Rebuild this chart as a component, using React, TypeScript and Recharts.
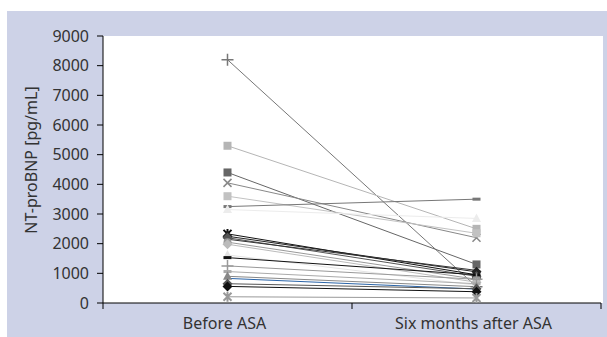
import React from "react";
import { LineChart, Line, XAxis, YAxis } from "recharts";

// paired NT-proBNP values, one entry per patient
const categories = ["Before ASA", "Six months after ASA"];
const patients = [
  "P1", "P2", "P3", "P4", "P5", "P6", "P7", "P8", "P9", "P10", "P11",
  "P12", "P13", "P14", "P15", "P16", "P17", "P18", "P19", "P20", "P21", "P22",
];
const beforeValues = [
  8200, 5300, 4400, 4050, 3600, 3250, 3150, 2330, 2250, 2200, 2150,
  2050, 1980, 1620, 1530, 1250, 1060, 900, 830, 650, 560, 210,
];
const afterValues = [
  550, 2500, 1300, 2200, 2350, 3500, 2850, 950, 1050, 900, 1100,
  800, 700, 600, 950, 800, 650, 550, 470, 480, 380, 170,
];
const yTicks = [0, 1000, 2000, 3000, 4000, 5000, 6000, 7000, 8000, 9000];

// styling per patient
const lineColors = [
  "#777777", "#b5b5b5", "#666666", "#888888", "#c2c2c2", "#777777", "#ececec",
  "#111111", "#222222", "#555555", "#333333", "#999999", "#bbbbbb", "#e4e4e4",
  "#111111", "#999999", "#aaaaaa", "#888888", "#2a64a8", "#555555", "#111111",
  "#999999",
];
const markerShapes = [
  "plus", "square", "square", "cross", "square", "dash", "triangle",
  "star", "diamond", "diamond", "none", "circle", "diamond", "triangle",
  "dash", "plus", "dash", "triangle", "none", "diamond", "diamond", "star",
];

const FONT = "'Noto Sans', 'Open Sans', sans-serif";

const Marker = ({ cx, cy, shape, color }: any) => {
  if (cx == null || cy == null) return <g />;
  switch (shape) {
    case "square":
      return <rect x={cx - 4} y={cy - 4} width={8} height={8} fill={color} />;
    case "dash":
      return <rect x={cx - 4} y={cy - 1.5} width={8} height={3} fill={color} />;
    case "plus":
      return (
        <path
          d={`M${cx - 6},${cy}H${cx + 6}M${cx},${cy - 6}V${cy + 6}`}
          stroke={color}
          strokeWidth={1.5}
        />
      );
    case "cross":
      return (
        <path
          d={`M${cx - 4},${cy - 4}L${cx + 4},${cy + 4}M${cx - 4},${cy + 4}L${cx + 4},${cy - 4}`}
          stroke={color}
          strokeWidth={1.5}
        />
      );
    case "star":
      return (
        <path
          d={`M${cx - 4},${cy - 4}L${cx + 4},${cy + 4}M${cx - 4},${cy + 4}L${cx + 4},${cy - 4}M${cx},${cy - 5}V${cy + 5}`}
          stroke={color}
          strokeWidth={2}
        />
      );
    case "triangle":
      return (
        <polygon
          points={`${cx},${cy - 5} ${cx + 4.5},${cy + 3.5} ${cx - 4.5},${cy + 3.5}`}
          fill={color}
        />
      );
    case "diamond":
      return (
        <polygon
          points={`${cx},${cy - 5} ${cx + 5},${cy} ${cx},${cy + 5} ${cx - 5},${cy}`}
          fill={color}
        />
      );
    case "circle":
      return <circle cx={cx} cy={cy} r={4} fill={color} />;
    default:
      return <g />;
  }
};

const XTick = ({ x, y, payload }: any) => {
  const v = payload.value;
  if (Number.isInteger(v)) {
    return <line x1={x} x2={x} y1={y} y2={y + 6} stroke="#000" strokeWidth={1} />;
  }
  return (
    <text x={x - 3} y={y + 26} textAnchor="middle" fill="#333" fontSize={16} fontFamily={FONT}>
      {categories[Math.floor(v)]}
    </text>
  );
};

const data = categories.map((name, i) => {
  const row: Record<string, any> = { name, x: i + 0.5 };
  const vals = i === 0 ? beforeValues : afterValues;
  patients.forEach((p, k) => {
    row[p] = vals[k];
  });
  return row;
});

export default function App() {
  return (
    <div style={{ position: "absolute", left: 0, top: 0, width: 607, height: 337, background: "#fff" }}>
      <div style={{ position: "absolute", left: 7, top: 11, width: 600, height: 326, background: "#cdd2e7" }} />
      <div style={{ position: "absolute", left: 103, top: 36, width: 500, height: 267, background: "#fff" }} />
      <div style={{ position: "absolute", left: 0, top: 0 }}>
        <LineChart width={607} height={337} data={data} margin={{ top: 36, right: 6, left: 43, bottom: 0 }}>
          <XAxis
            dataKey="x"
            type="number"
            domain={[0, 2]}
            ticks={[0, 0.5, 1, 1.5, 2]}
            interval={0}
            tick={<XTick />}
            tickLine={false}
            tickSize={0}
            tickMargin={0}
            axisLine={{ stroke: "#000" }}
            height={34}
          />
          <YAxis
            domain={[0, 9000]}
            ticks={yTicks}
            interval={0}
            width={60}
            tickSize={6}
            tickMargin={8}
            tickLine={{ stroke: "#000" }}
            axisLine={{ stroke: "#000" }}
            tick={{ fill: "#333", fontSize: 16, fontFamily: FONT }}
            label={{
              content: () => (
                <text
                  x={31}
                  y={160}
                  transform="rotate(-90 31 160)"
                  textAnchor="middle"
                  dominantBaseline="central"
                  fill="#333"
                  fontSize={16}
                  fontFamily={FONT}
                >
                  NT-proBNP [pg/mL]
                </text>
              ),
            }}
          />
          {patients.map((p, k) => (
            <Line
              key={p}
              type="linear"
              dataKey={p}
              stroke={lineColors[k]}
              strokeWidth={1}
              isAnimationActive={false}
              activeDot={false}
              dot={(props: any) => (
                <Marker
                  key={`${p}-${props.index}`}
                  cx={props.cx}
                  cy={props.cy}
                  shape={markerShapes[k]}
                  color={lineColors[k]}
                />
              )}
            />
          ))}
        </LineChart>
      </div>
    </div>
  );
}
